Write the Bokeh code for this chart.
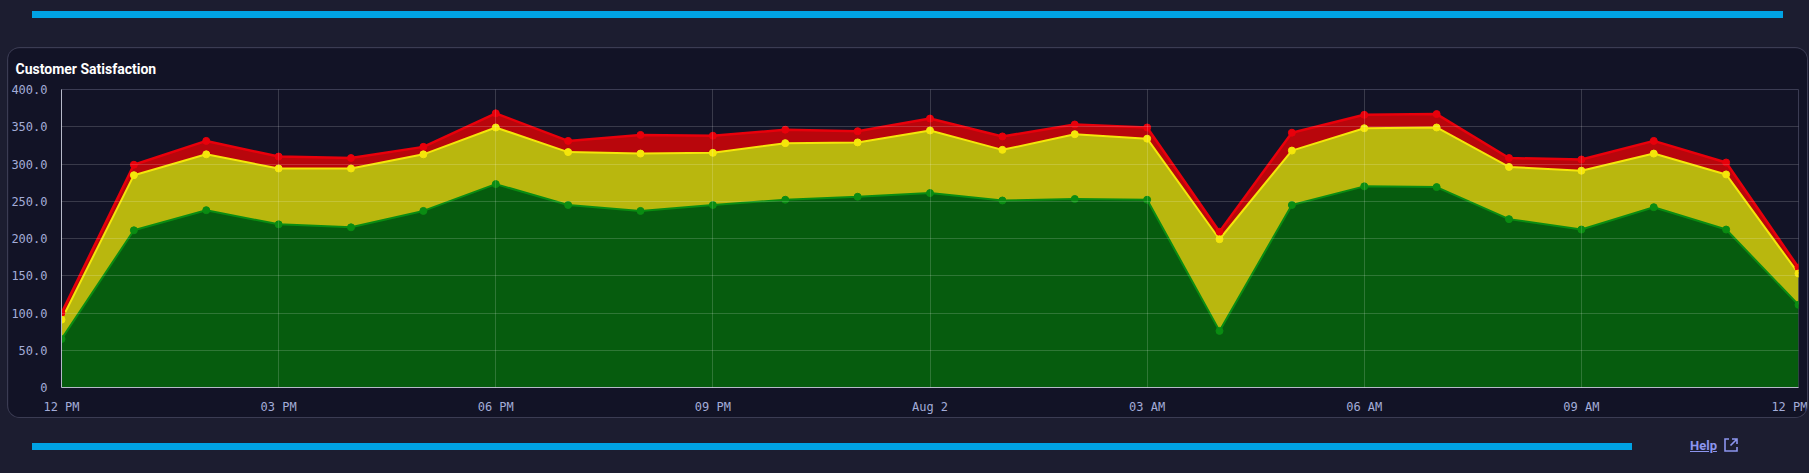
from bokeh.plotting import figure
from bokeh.models import ColumnDataSource, Div, FixedTicker, CustomJS
from bokeh.layouts import column, row
from bokeh.document import Document
from bokeh.embed import file_html
from bokeh.resources import INLINE

# hourly buckets, 12 PM Aug 1 -> 12 PM Aug 2
hours = list(range(25))
satisfied = [65, 211, 238, 219, 215, 237, 273, 245, 237, 245, 252, 256, 261,
             251, 253, 252, 76, 245, 270, 269, 226, 212, 242, 212, 111]
tolerating = [26, 74, 75, 75, 79, 76, 76, 71, 77, 70, 76, 73, 84,
              68, 87, 82, 123, 73, 78, 80, 70, 79, 72, 74, 42]
frustrated = [9, 14, 18, 16, 14, 10, 19, 15, 25, 23, 18, 15, 16,
              18, 13, 15, 10, 24, 18, 18, 12, 15, 17, 16, 8]

x_ticks = [0, 3, 6, 9, 12, 15, 18, 21, 24]
x_tick_labels = ["12 PM", "03 PM", "06 PM", "09 PM", "Aug 2", "03 AM", "06 AM", "09 AM", "12 PM"]
y_ticks = [0, 50, 100, 150, 200, 250, 300, 350, 400]
y_tick_labels = ["0", "50.0", "100.0", "150.0", "200.0", "250.0", "300.0", "350.0", "400.0"]

PAGE = "#1c1d30"
CARD = "#121326"
BLUE = "#00a2e3"
TICK = "#a3acd8"

top1 = [s for s in satisfied]
top2 = [s + t for s, t in zip(satisfied, tolerating)]
top3 = [s + t + f for s, t, f in zip(satisfied, tolerating, frustrated)]
source = ColumnDataSource(data=dict(x=hours, zero=[0] * len(hours), top1=top1, top2=top2, top3=top3))

p = figure(width=1799, height=369, x_range=(0, 24), y_range=(0, 400),
           title="Customer Satisfaction", output_backend="svg", toolbar_location=None,
           min_border_left=50, min_border_right=9, min_border_top=41, min_border_bottom=30)
p.background_fill_color = CARD
p.border_fill_color = CARD
p.outline_line_color = "#3b3c53"

p.title.text_color = "#ffffff"
p.title.text_font = "Roboto"
p.title.text_font_size = "14px"
p.title.text_font_style = "bold"
p.title.align = "left"
p.title.vertical_align = "top"
p.title.offset = -46
p.title.standoff = 22

p.varea(x="x", y1="zero", y2="top1", source=source, fill_color="#065c0e")
p.varea(x="x", y1="top1", y2="top2", source=source, fill_color="#b9b70e")
p.varea(x="x", y1="top2", y2="top3", source=source, fill_color="#b8060c")

p.line(x="x", y="top3", source=source, line_color="#e8000b", line_width=2.5)
p.line(x="x", y="top2", source=source, line_color="#f5e60a", line_width=2)
p.line(x="x", y="top1", source=source, line_color="#0a8c12", line_width=2)
p.scatter(x="x", y="top3", source=source, size=7, color="#e8000b")
p.scatter(x="x", y="top2", source=source, size=7, color="#f5e60a")
p.scatter(x="x", y="top1", source=source, size=7, color="#0a8c12")

for ax, ticks, labels in ((p.xaxis, x_ticks, x_tick_labels), (p.yaxis, y_ticks, y_tick_labels)):
    ax.ticker = FixedTicker(ticks=ticks)
    ax.major_label_overrides = dict(zip(ticks, labels))
    ax.major_tick_line_color = None
    ax.minor_tick_line_color = None
    ax.axis_line_color = "#b6bac9"
    ax.major_label_text_color = TICK
    ax.major_label_text_font = "DejaVu Sans Mono"
    ax.major_label_text_font_size = "12px"
p.xaxis.major_label_standoff = 6
p.yaxis.major_label_standoff = 8

for g in (p.xgrid, p.ygrid):
    g.grid_line_color = "#ffffff"
    g.grid_line_alpha = 0.17
    g.level = "annotation"

p.margin = (30, 0, 0, 8)
p.styles = {"border-radius": "12px", "box-shadow": "0 0 0 1px #3b3c53", "overflow": "hidden"}

top_bar = Div(text="", width=1751, height=7, margin=(11, 0, 0, 32),
              styles={"background-color": BLUE})
bottom_bar = Div(text="", width=1600, height=7, margin=(26, 0, 0, 32),
                 styles={"background-color": BLUE})
help_link = Div(
    text='<span style="font-family:Roboto;font-weight:bold;font-size:13px;color:#8c95ee;'
         'text-decoration:underline;">Help</span>'
         '<svg width="14" height="14" viewBox="0 0 14 14" style="margin-left:7px;vertical-align:-2px">'
         '<path d="M5 1H1V13H13V9" fill="none" stroke="#8c95ee" stroke-width="1.6"/>'
         '<path d="M8 1H13V6M13 1L6.5 7.5" fill="none" stroke="#8c95ee" stroke-width="1.6"/></svg>',
    width=80, height=20, margin=(20, 0, 0, 58))

layout = column(top_bar, p, row(bottom_bar, help_link))

doc = Document()
doc.add_root(layout)
doc.js_on_event("document_ready", CustomJS(code="document.body.style.backgroundColor='%s';"
                                                "document.documentElement.style.backgroundColor='%s';" % (PAGE, PAGE)))

open("out.html", "w").write(file_html(layout, INLINE))
